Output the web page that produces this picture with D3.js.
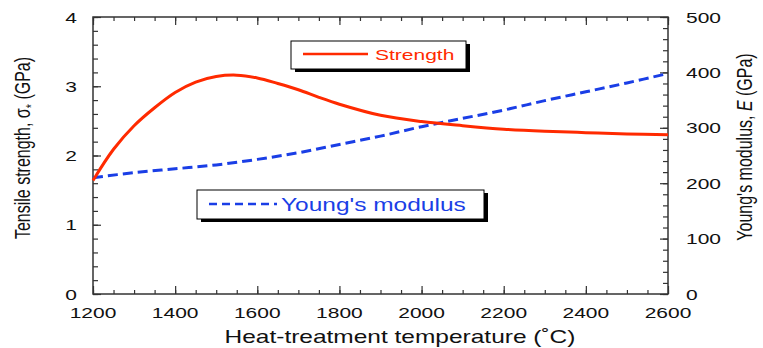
<!DOCTYPE html>
<html>
<head>
<meta charset="utf-8">
<script src="https://cdn.jsdelivr.net/npm/d3@7"></script>
<style>
  body { margin: 0; background: #fff; }
  text { font-family: "Liberation Sans", Arial, sans-serif; }
</style>
</head>
<body>
<script>
// data
var strengthTemps = [1200, 1250, 1300, 1350, 1400, 1450, 1500, 1550, 1600, 1650, 1700, 1750, 1800, 1900, 2000, 2100, 2200, 2300, 2400, 2500, 2600];
var strength = [1.64, 2.09, 2.43, 2.69, 2.91, 3.06, 3.14, 3.16, 3.12, 3.04, 2.95, 2.84, 2.74, 2.58, 2.49, 2.43, 2.38, 2.35, 2.33, 2.31, 2.30];
var modulusTemps = [1200, 1300, 1400, 1500, 1600, 1700, 1800, 1900, 2000, 2100, 2200, 2300, 2400, 2500, 2600];
var modulus = [210, 219, 226, 233, 243, 255, 270, 285, 302, 317, 332, 349, 365, 381, 398];
var xTicks = [1200, 1400, 1600, 1800, 2000, 2200, 2400, 2600];
var leftTicks = [0, 1, 2, 3, 4];
var rightTicks = [0, 100, 200, 300, 400, 500];

var width = 763, height = 348;
var red = "#ff2a00", blue = "#1a3ee6", axisCol = "#333";
var sx = 1.4; // the source picture is stretched sideways, so the text is too

var svg = d3.select("body").append("svg")
    .attr("width", width)
    .attr("height", height);

var x = d3.scaleLinear().domain([1200, 2600]).range([93, 668]);
var yL = d3.scaleLinear().domain([0, 4]).range([294, 17]);
var yR = d3.scaleLinear().domain([0, 500]).range([294, 17]);

function minor(step, lo, hi) {
  return d3.range(lo, hi + step / 2, step);
}

// tick marks, all pointing into the plot
function ticks(axis, tr) {
  var g = svg.append("g").attr("transform", tr).call(axis);
  g.select(".domain").remove();
  g.selectAll("line").attr("stroke", axisCol).attr("stroke-width", 1.2);
  g.selectAll("text").remove();
  return g;
}
ticks(d3.axisBottom(x).tickValues(minor(50, 1200, 2600)).tickSize(-4), "translate(0,294)");
ticks(d3.axisBottom(x).tickValues(xTicks).tickSize(-8), "translate(0,294)");
ticks(d3.axisTop(x).tickValues(minor(50, 1200, 2600)).tickSize(-4), "translate(0,17)");
ticks(d3.axisTop(x).tickValues(xTicks).tickSize(-8), "translate(0,17)");
ticks(d3.axisLeft(yL).tickValues(minor(0.2, 0, 4)).tickSize(-5), "translate(93,0)");
ticks(d3.axisLeft(yL).tickValues(leftTicks).tickSize(-8), "translate(93,0)");
ticks(d3.axisRight(yR).tickValues(minor(20, 0, 500)).tickSize(-5), "translate(668,0)");
ticks(d3.axisRight(yR).tickValues(rightTicks).tickSize(-8), "translate(668,0)");

// frame
svg.append("rect")
    .attr("x", x(1200)).attr("y", yL(4))
    .attr("width", x(2600) - x(1200)).attr("height", yL(0) - yL(4))
    .attr("fill", "none").attr("stroke", axisCol).attr("stroke-width", 1.5);

// stretched text helper
function label(px, py, str, anchor, size, fill) {
  return svg.append("text")
      .attr("transform", "translate(" + px + "," + py + ") scale(" + sx + ",1)")
      .attr("text-anchor", anchor)
      .style("font-size", size + "px")
      .style("fill", fill || "#111")
      .text(str);
}

xTicks.forEach(function(t) { label(x(t), 318, t, "middle", 15); });
leftTicks.forEach(function(t) { label(77, yL(t) + 5.5, t, "end", 15); });
rightTicks.forEach(function(t) { label(686, yR(t) + 5.5, t, "start", 15); });

label(400, 343, "Heat-treatment temperature (\u02DAC)", "middle", 17.5);

// rotated titles: stretched across the baseline direction
var lt = svg.append("text")
    .attr("transform", "translate(30,148) rotate(-90) scale(1," + sx + ")")
    .attr("text-anchor", "middle")
    .style("font-size", "16px").style("fill", "#111");
lt.append("tspan").text("Tensile strength, \u03C3");
lt.append("tspan").attr("dy", 4).style("font-size", "11px").text("*");
lt.append("tspan").attr("dy", -4).text(" (GPa)");

var rt = svg.append("text")
    .attr("transform", "translate(752,147) rotate(-90) scale(1," + sx + ")")
    .attr("text-anchor", "middle")
    .style("font-size", "16px").style("fill", "#111");
rt.append("tspan").text("Young's modulus, ");
rt.append("tspan").style("font-style", "italic").text("E");
rt.append("tspan").text(" (GPa)");

// curves
var plot = svg.append("g");
var strengthLine = d3.line()
    .x(function(d, i) { return x(strengthTemps[i]); })
    .y(function(d) { return yL(d); })
    .curve(d3.curveCatmullRom.alpha(0.5));
var modulusLine = d3.line()
    .x(function(d, i) { return x(modulusTemps[i]); })
    .y(function(d) { return yR(d); })
    .curve(d3.curveCatmullRom.alpha(0.5));

plot.append("path")
    .datum(modulus)
    .attr("d", modulusLine)
    .attr("fill", "none").attr("stroke", blue)
    .attr("stroke-width", 3).attr("stroke-dasharray", "10,5");
plot.append("path")
    .datum(strength)
    .attr("d", strengthLine)
    .attr("fill", "none").attr("stroke", red)
    .attr("stroke-width", 3);

// legend boxes with drop shadow
function legendBox(bx, by, bw, bh) {
  svg.append("rect").attr("x", bx + 4).attr("y", by + 3)
      .attr("width", bw).attr("height", bh).attr("fill", "#000");
  svg.append("rect").attr("x", bx).attr("y", by)
      .attr("width", bw).attr("height", bh)
      .attr("fill", "#fff").attr("stroke", "#000").attr("stroke-width", 1);
}

legendBox(291, 41, 175, 28);
svg.append("line").attr("x1", 303).attr("x2", 368).attr("y1", 54).attr("y2", 54)
    .attr("stroke", red).attr("stroke-width", 2.5);
label(375, 59.5, "Strength", "start", 15, red);

legendBox(197, 190, 287, 29);
svg.append("line").attr("x1", 209).attr("x2", 277).attr("y1", 204).attr("y2", 204)
    .attr("stroke", blue).attr("stroke-width", 2.5).attr("stroke-dasharray", "8,5");
label(281, 210.5, "Young's modulus", "start", 17.5, blue);
</script>
</body>
</html>
